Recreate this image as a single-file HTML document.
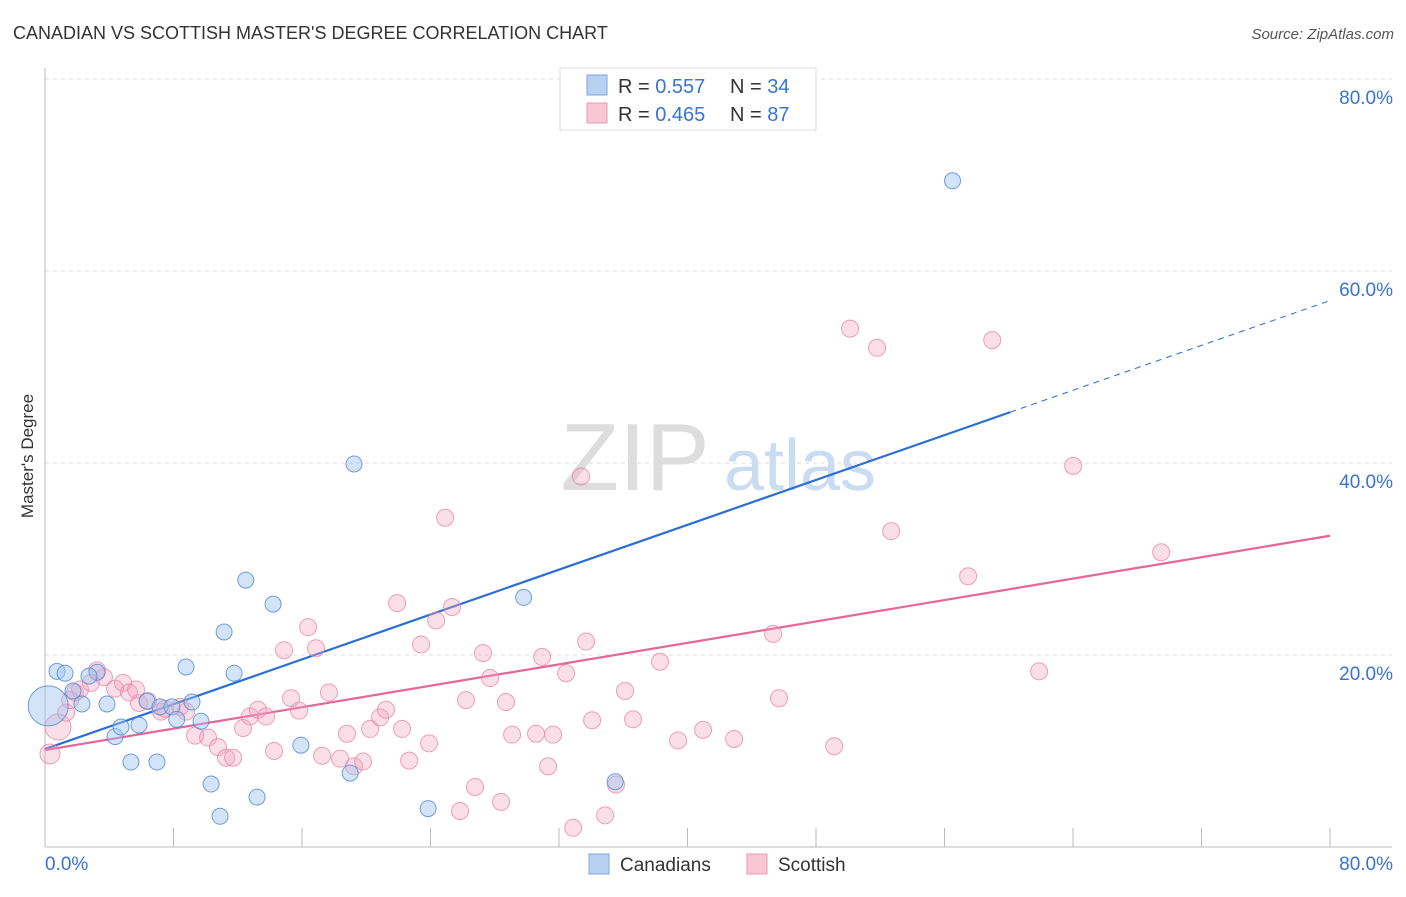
<!DOCTYPE html>
<html><head><meta charset="utf-8"><style>
body{margin:0;background:#fff;font-family:"Liberation Sans",sans-serif;}
svg text{font-family:"Liberation Sans",sans-serif;}
</style></head><body>
<svg id="chart" width="1406" height="892" xmlns="http://www.w3.org/2000/svg">
<text x="13" y="39" font-size="18" fill="#333">CANADIAN VS SCOTTISH MASTER'S DEGREE CORRELATION CHART</text>
<text x="1394" y="39" font-size="15" fill="#555" text-anchor="end" font-style="italic">Source: ZipAtlas.com</text>
<text transform="translate(33,456) rotate(-90)" font-size="17" fill="#333" text-anchor="middle">Master's Degree</text>
<g>
<text x="635" y="490" font-size="96" fill="#ddd" text-anchor="middle" font-family="Liberation Serif,serif">ZIP</text>
<text x="800" y="490" font-size="72" fill="#c9dcf2" text-anchor="middle">atlas</text>
</g>
<g id="grid"></g><g id="axes"></g><g id="lines"></g><g id="pts"></g>
<g>
<rect x="560" y="68" width="256" height="62" fill="#fff" stroke="#ddd"/>
<rect x="587" y="75" width="20" height="20" fill="#b8d1f3" stroke="#7aa6e0"/>
<rect x="587" y="103" width="20" height="20" fill="#f8c6d4" stroke="#eb98b3"/>
<text x="618" y="93" font-size="20" fill="#333">R = <tspan fill="#3874d0">0.557</tspan></text>
<text x="730" y="93" font-size="20" fill="#333">N = <tspan fill="#3874d0">34</tspan></text>
<text x="618" y="121" font-size="20" fill="#333">R = <tspan fill="#3874d0">0.465</tspan></text>
<text x="730" y="121" font-size="20" fill="#333">N = <tspan fill="#3874d0">87</tspan></text>
</g>
<g>
<rect x="589" y="854" width="20" height="20" fill="#b8d1f3" stroke="#7aa6e0"/>
<text x="620" y="871" font-size="19" fill="#333">Canadians</text>
<rect x="747" y="854" width="20" height="20" fill="#f8c6d4" stroke="#eb98b3"/>
<text x="778" y="871" font-size="19" fill="#333">Scottish</text>
</g>
</svg>
<script>
const yTicks=[20,40,60,80];
const yTickLabels=["20.0%","40.0%","60.0%","80.0%"];
const xTicks=[0,8,16,24,32,40,48,56,64,72,80];
const blueX=[0.75,1.25,1.74,2.3,3.24,2.74,3.86,4.36,4.73,5.35,5.85,6.35,6.97,7.16,7.9,8.2,8.78,9.15,9.71,10.34,10.9,11.15,11.77,12.5,13.2,14.2,15.93,19.0,19.24,23.85,29.8,35.5,56.5,0.2];
const blueY=[18.3,18.1,16.25,14.9,18.2,17.8,14.9,11.5,12.5,8.85,12.7,15.2,8.85,14.6,14.6,13.3,18.75,15.1,13.1,6.56,3.2,22.4,18.1,27.8,5.2,25.3,10.6,7.7,39.9,4.0,26.0,6.8,69.4,14.7];
const blueR=[8,8,8,8,8,8,8,8,8,8,8,8,8,8,8,8,8,8,8,8,8,8,8,8,8,8,8,8,8,8,8,8,8,20];
const pinkX=[0.31,0.81,1.31,1.87,2.18,2.86,3.24,3.67,4.36,4.86,5.23,5.85,6.41,7.22,7.47,8.41,8.78,9.34,10.15,10.77,11.27,11.71,12.33,12.76,13.26,13.76,14.26,14.88,15.32,15.82,16.38,16.87,17.25,17.68,18.37,18.8,19.24,19.8,20.24,20.86,21.23,21.92,22.23,22.67,23.41,23.91,24.35,24.91,25.34,25.84,26.21,26.77,27.27,27.71,28.39,28.7,29.08,30.57,30.95,31.32,31.63,32.44,32.88,33.37,33.69,34.06,34.87,35.55,36.11,36.61,38.29,39.41,40.97,42.9,45.33,45.7,49.13,50.12,51.8,52.68,57.47,58.97,61.89,64.01,69.49,1.56,5.67];
const pinkY=[9.7,12.5,14.0,16.1,16.4,17.1,18.4,17.7,16.5,17.1,16.1,15.0,15.2,14.1,14.4,14.6,14.1,11.6,11.4,10.4,9.3,9.3,12.4,13.6,14.3,13.6,10.0,20.5,15.5,14.2,22.9,20.7,9.5,16.1,9.2,11.8,8.4,8.9,12.3,13.5,14.3,25.4,12.3,9.0,21.1,10.8,23.6,34.3,25.0,3.75,15.3,6.25,20.2,17.6,4.7,15.1,11.7,11.8,19.8,8.4,11.7,18.1,2.0,38.6,21.4,13.2,3.3,6.5,16.25,13.3,19.3,11.1,12.2,11.25,22.2,15.5,10.5,54.0,52.0,32.9,28.2,52.8,18.3,39.7,30.7,15.3,16.4];
const blueTrend=[10.2,0.584];
const pinkTrend=[10.1,0.279];
const blueSolidEnd=60.1;

const NS="http://www.w3.org/2000/svg";
const X0=45,X1=1330,Y0=847,Y80=79;
function xs(v){return X0+(X1-X0)*v/80;}
function ys(v){return Y0-(Y0-Y80)*v/80;}
function mk(tag,attrs,parent){const e=document.createElementNS(NS,tag);for(const k in attrs)e.setAttribute(k,attrs[k]);document.getElementById(parent).appendChild(e);return e;}

yTicks.forEach((t,i)=>{
 const g=mk('line',{x1:45,x2:1392,y1:ys(t),y2:ys(t),stroke:'#ddd','stroke-dasharray':'4,4'},'grid');
 
 
 const tx=mk('text',{x:1393,y:ys(t)+25,'font-size':19,fill:'#3874d0','text-anchor':'end'},'grid');
 tx.textContent=yTickLabels[i];
 
 
});
const ax=mk('line',{x1:45,x2:1392,y1:Y0,y2:Y0,stroke:'#bbb'},'axes');


const ay=mk('line',{x1:45,x2:45,y1:68,y2:Y0,stroke:'#bbb'},'axes');


xTicks.forEach(t=>{
 const l=mk('line',{x1:xs(t),x2:xs(t),y1:828,y2:Y0,stroke:'#bbb'},'axes');
 
 
});
const xl0=mk('text',{x:45,y:870,'font-size':19,fill:'#3874d0'},'axes');xl0.textContent='0.0%';


const xl1=mk('text',{x:1393,y:870,'font-size':19,fill:'#3874d0','text-anchor':'end'},'axes');xl1.textContent='80.0%';



pinkX.forEach((x,i)=>{
 const c=mk('circle',{cx:xs(x),cy:ys(pinkY[i]),r:(i==1?13:(i==0?10:8.5)),fill:'rgba(244,163,190,0.35)',stroke:'rgba(232,130,165,0.75)','stroke-width':1},'pts');
 
 
});
blueX.forEach((x,i)=>{
 const c=mk('circle',{cx:xs(x),cy:ys(blueY[i]),r:blueR[i],fill:'rgba(160,195,240,0.45)',stroke:'rgba(80,135,210,0.8)','stroke-width':1},'pts');
 
 
});
const bl=mk('line',{x1:xs(0),y1:ys(blueTrend[0]),x2:xs(blueSolidEnd),y2:ys(blueTrend[0]+blueTrend[1]*blueSolidEnd),stroke:'#2a6fd6','stroke-width':2.2},'lines');


const bd=mk('line',{x1:xs(blueSolidEnd),y1:ys(blueTrend[0]+blueTrend[1]*blueSolidEnd),x2:xs(80),y2:ys(blueTrend[0]+blueTrend[1]*80),stroke:'#2a6fd6','stroke-width':1,'stroke-dasharray':'6,5'},'lines');


const pl=mk('line',{x1:xs(0),y1:ys(pinkTrend[0]),x2:xs(80),y2:ys(pinkTrend[0]+pinkTrend[1]*80),stroke:'#e8649a','stroke-width':2.2},'lines');


</script>
</body></html>
